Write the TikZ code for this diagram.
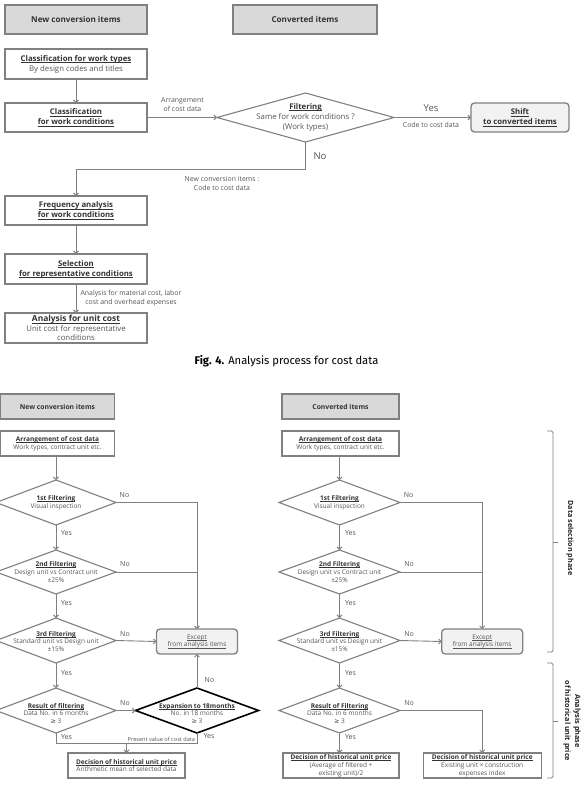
\documentclass[tikz,border=0pt]{standalone}
\usepackage{fontspec}
\setmainfont{Open Sans}[BoldFont={Open Sans Bold}]
\newfontfamily\capfont{Fira Sans}
\newfontfamily\symfont{DejaVu Sans}
\usetikzlibrary{shapes.geometric,arrows.meta}
\definecolor{ln}{HTML}{808080}
\definecolor{hdrfill}{HTML}{D9D9D9}
\definecolor{rfill}{HTML}{F2F2F2}
\definecolor{tx}{HTML}{333333}
\definecolor{tx2}{HTML}{555555}
\newcommand\ftop{\fontsize{7.8}{10}\selectfont}
\newcommand\fsm{\fontsize{6.9}{8.8}\selectfont}
\newcommand\fyn{\fontsize{9.5}{11}\selectfont}
\newcommand\fb{\fontsize{6.5}{7.9}\selectfont}
\newcommand\fbyn{\fontsize{7}{8}\selectfont}
\newcommand\fbs{\fontsize{5.6}{6.5}\selectfont}
\newcommand\myul[1]{\leavevmode\setbox0=\hbox{#1}\rlap{\rule[-0.17em]{\wd0}{0.06em}}\box0}
\newcommand\mytitle[1]{\textbf{\myul{#1}}}
\newcommand\mysub[1]{{\color{tx2}#1}}
\newcommand\mygeq{{\symfont ≥}}
\begin{document}
\begin{tikzpicture}[x=1pt,y=-1pt,
  every node/.style={text=tx, inner sep=0pt, outer sep=0pt},
  hdr/.style={draw=ln, fill=hdrfill, line width=1.4pt},
  box/.style={draw=ln, fill=white, line width=1.3pt, align=center},
  rbox/.style={draw=ln, fill=rfill, line width=1.3pt, rounded corners=3.5pt, align=center},
  dia/.style={diamond, draw=ln, line width=1.1pt, fill=white},
  conn/.style={draw=ln, line width=0.9pt},
  arr/.style={conn, -{Straight Barb[length=2.5pt,width=5pt]}},
  lbl/.style={align=center, text=tx2},
  brk/.style={draw=ln, line width=0.8pt, rounded corners=1.5pt},
]
\useasboundingbox (0,0) rectangle (582,787);

% ---------------- Fig. 4 ----------------
\node[hdr, minimum width=142pt, minimum height=29pt, font=\fontsize{8.1}{9}\selectfont\bfseries] (h1) at (76,19.5) {New conversion items};
\node[hdr, minimum width=144pt, minimum height=29pt, font=\fontsize{8.1}{9}\selectfont\bfseries] (h2) at (305,19.5) {Converted items};

\node[box, minimum width=142pt, minimum height=30pt, font=\ftop] (cwt) at (76,64) {\mytitle{Classification for work types}\\\mysub{By design codes and titles}};
\node[box, minimum width=142pt, minimum height=29pt, font=\ftop] (cwc) at (76,117.5) {\mytitle{Classification}\\\mytitle{for work conditions}};
\node[dia, minimum width=177pt, minimum height=49pt,
  label={[name=filtT, align=center, font=\ftop]center:{\mytitle{Filtering}\\\mysub{Same for work conditions ?}\\\mysub{(Work types)}}}] (filt) at (305.5,117.5) {};
\node[rbox, minimum width=98pt, minimum height=29pt, font=\ftop] (shift) at (520,117.5) {\mytitle{Shift}\\\mytitle{to converted items}};
\node[box, minimum width=142pt, minimum height=29pt, font=\ftop] (freq) at (76,210.5) {\mytitle{Frequency analysis}\\\mytitle{for work conditions}};
\node[box, minimum width=142pt, minimum height=30pt, font=\ftop] (sel) at (76,269) {\mytitle{Selection}\\\mytitle{for representative conditions}};
\node[box, minimum width=142pt, minimum height=30pt, font=\fontsize{7.8}{9.4}\selectfont] (auc) at (76,328) {{\fontsize{8.4}{9.4}\selectfont\mytitle{Analysis for unit cost}}\\\mysub{Unit cost for representative}\\\mysub{conditions}};

\draw[arr] (cwt.south) -- (cwc.north);
\draw[arr] (cwc.east) -- (filt.west);
\node[lbl, font=\fsm] (l1) at (182.5,104.5) {Arrangement\\of cost data};
\draw[arr] (filt.east) -- (shift.west);
\node[lbl, font=\fyn] (yes0) at (431,108) {Yes};
\node[lbl, font=\fsm] (l2) at (431,125) {Code to cost data};
\coordinate (n1) at (305.5,169);
\coordinate (n2) at (76,169);
\draw[arr] (filt.south) -- (n1) -- (n2) -- (freq.north);
\node[lbl, font=\fyn] (no0) at (320,156) {No};
\node[lbl, font=\fsm] (l3) at (222,183.3) {New conversion items :\\Code to cost data};
\draw[arr] (freq.south) -- (sel.north);
\draw[arr] (sel.south) -- (auc.north);
\node[lbl, font=\fsm] (l4) at (131,298.3) {Analysis for material cost, labor\\cost and overhead expenses};

\node[font=\capfont\fontsize{11.2}{13}\selectfont, text=black] (cap) at (286.5,360.7) {\textbf{Fig. 4.} Analysis process for cost data};

% ---------------- bottom figure ----------------
\node[hdr, minimum width=114pt, minimum height=25pt, font=\fontsize{6.8}{8}\selectfont\bfseries] (h3) at (57.5,406.5) {New conversion items};
\node[hdr, minimum width=117pt, minimum height=25pt, font=\fontsize{6.8}{8}\selectfont\bfseries] (h4) at (340.5,406.5) {Converted items};

\node[box, minimum width=114pt, minimum height=25pt, font=\fb] (arrL) at (57.5,443.5) {\mytitle{Arrangement of cost data}\\\mysub{Work types, contract unit etc.}};
\node[box, minimum width=117pt, minimum height=25pt, font=\fb] (arrR) at (340.5,443.5) {\mytitle{Arrangement of cost data}\\\mysub{Work types, contract unit etc.}};

% left column
\node[dia, minimum width=120pt, minimum height=45pt,
  label={[name=d1Lt, align=center, font=\fb]center:{\mytitle{1st Filtering}\\\mysub{Visual inspection}}}] (d1L) at (56,502.5) {};
\node[dia, minimum width=120pt, minimum height=44pt,
  label={[name=d2Lt, align=center, font=\fb]center:{\mytitle{2nd Filtering}\\\mysub{Design unit vs Contract unit}\\\mysub{±25\%}}}] (d2L) at (56,572) {};
\node[dia, minimum width=120pt, minimum height=45pt,
  label={[name=d3Lt, align=center, font=\fb, yshift=-1pt]center:{\mytitle{3rd Filtering}\\\mysub{Standard unit vs Design unit}\\\mysub{±15\%}}}] (d3L) at (56,640.5) {};
\node[dia, minimum width=120pt, minimum height=45pt,
  label={[name=d4Lt, align=center, font=\fb, yshift=-3pt]center:{\mytitle{Result of filtering}\\\mysub{Data No. in 6 months}\\\mysub{\mygeq\ 3}}}] (d4L) at (56,710.5) {};
\node[diamond, draw=black, line width=1.6pt, fill=white, minimum width=123pt, minimum height=45pt,
  label={[name=expt, align=center, font=\fb, yshift=-3pt]center:{\mytitle{Expansion to 18months}\\\mysub{No. in 18 months}\\\mysub{\mygeq\ 3}}}] (exp) at (197,710.5) {};
\node[rbox, minimum width=81pt, minimum height=25pt, font=\fb, text=tx2] (excL) at (197,641.5) {\myul{Except}\\\myul{from analysis items}};
\node[box, minimum width=117pt, minimum height=25pt, font=\fb] (decL) at (126.5,765.5) {\mytitle{Decision of historical unit price}\\\mysub{Arithmetic mean of selected data}};

\draw[arr] (arrL.south -| d1L.north) -- (d1L.north);
\draw[arr] (d1L.east) -| (excL.north);
\draw[conn] (d2L.east) -- (d2L.east -| excL.north);
\draw[arr] (d3L.east) -- (excL.west);
\draw[arr] (d1L.south) -- (d2L.north);
\draw[arr] (d2L.south) -- (d3L.north);
\draw[arr] (d3L.south) -- (d4L.north);
\draw[arr] (d4L.east) -- (exp.west);
\draw[arr] (exp.north) -- (excL.south);
\coordinate (j1) at (56,743);
\coordinate (j2) at (126.5,743);
\draw[conn] (d4L.south) -- (j1) -| (exp.south);
\draw[arr] (j2) -- (decL.north);

\node[lbl, font=\fbyn] (nL1) at (124.5,495) {No};
\node[lbl, font=\fbyn] (nL2) at (125,563.7) {No};
\node[lbl, font=\fbyn] (nL3) at (125,634) {No};
\node[lbl, font=\fbyn] (nL4) at (125,702.7) {No};
\node[lbl, font=\fbyn] (nL5) at (209.5,680) {No};
\node[lbl, font=\fbyn, anchor=west] (yL1) at (61,533) {Yes};
\node[lbl, font=\fbyn, anchor=west] (yL2) at (61,603) {Yes};
\node[lbl, font=\fbyn, anchor=west] (yL3) at (61,673) {Yes};
\node[lbl, font=\fbyn, anchor=west] (yL4) at (61,736.7) {Yes};
\node[lbl, font=\fbyn] (yL5) at (209,736) {Yes};
\node[lbl, font=\fbs, anchor=east] (pv) at (195,739) {Present value of cost data};

% right column
\node[dia, minimum width=121pt, minimum height=45pt,
  label={[name=d1Rt, align=center, font=\fb]center:{\mytitle{1st Filtering}\\\mysub{Visual inspection}}}] (d1R) at (339.5,502.5) {};
\node[dia, minimum width=121pt, minimum height=44pt,
  label={[name=d2Rt, align=center, font=\fb]center:{\mytitle{2nd Filtering}\\\mysub{Design unit vs Contract unit}\\\mysub{±25\%}}}] (d2R) at (339.5,572) {};
\node[dia, minimum width=121pt, minimum height=45pt,
  label={[name=d3Rt, align=center, font=\fb, yshift=-1pt]center:{\mytitle{3rd Filtering}\\\mysub{Standard unit vs Design unit}\\\mysub{±15\%}}}] (d3R) at (339.5,640.5) {};
\node[dia, minimum width=121pt, minimum height=45pt,
  label={[name=d4Rt, align=center, font=\fb, yshift=-3pt]center:{\mytitle{Result of Filtering}\\\mysub{Data No. in 6 months}\\\mysub{\mygeq\ 3}}}] (d4R) at (339.5,710.5) {};
\node[rbox, minimum width=81pt, minimum height=25pt, font=\fb, text=tx2] (excR) at (482.2,641.5) {\myul{Except}\\\myul{from analysis items}};
\node[box, minimum width=116pt, minimum height=25pt, font=\fb] (decR1) at (341,765.5) {\mytitle{Decision of historical unit price}\\\mysub{(Average of filtered +}\\\mysub{existing unit)/2}};
\node[box, minimum width=118pt, minimum height=25pt, font=\fb] (decR2) at (482.2,765.5) {\mytitle{Decision of historical unit price}\\\mysub{Existing unit × construction}\\\mysub{expenses index}};

\draw[arr] (arrR.south -| d1R.north) -- (d1R.north);
\draw[arr] (d1R.east) -| (excR.north);
\draw[conn] (d2R.east) -- (d2R.east -| excR.north);
\draw[arr] (d3R.east) -- (excR.west);
\draw[arr] (d1R.south) -- (d2R.north);
\draw[arr] (d2R.south) -- (d3R.north);
\draw[arr] (d3R.south) -- (d4R.north);
\draw[arr] (d4R.east) -| (decR2.north);
\draw[arr] (d4R.south) -- (d4R.south |- decR1.north);

\node[lbl, font=\fbyn] (nR1) at (408.5,495) {No};
\node[lbl, font=\fbyn] (nR2) at (409,563.7) {No};
\node[lbl, font=\fbyn] (nR3) at (409,634) {No};
\node[lbl, font=\fbyn] (nR4) at (409,702.7) {No};
\node[lbl, font=\fbyn, anchor=west] (yR1) at (345,533) {Yes};
\node[lbl, font=\fbyn, anchor=west] (yR2) at (345,603) {Yes};
\node[lbl, font=\fbyn, anchor=west] (yR3) at (345,673) {Yes};
\node[lbl, font=\fbyn, anchor=west] (yR4) at (345,736.7) {Yes};

% brackets
\coordinate (b1a) at (547,431);
\coordinate (b1b) at (553,431);
\coordinate (b1c) at (553,652);
\coordinate (b1d) at (547,652);
\coordinate (b1m) at (553,542);
\coordinate (b1t) at (558,542);
\draw[brk] (b1a) -- (b1b) -- (b1c) -- (b1d);
\draw[brk] (b1m) -- (b1t);
\node[rotate=-90, font=\fontsize{7.2}{8}\selectfont\bfseries, text=black!85] (ph1) at (570,538) {Data selection phase};

\coordinate (b2a) at (547,663);
\coordinate (b2b) at (553,663);
\coordinate (b2c) at (553,778);
\coordinate (b2d) at (547,778);
\coordinate (b2m) at (553,721);
\coordinate (b2t) at (558,721);
\draw[brk] (b2a) -- (b2b) -- (b2c) -- (b2d);
\draw[brk] (b2m) -- (b2t);
\node[rotate=-90, align=center, font=\fontsize{7.3}{10}\selectfont\bfseries, text=black!85] (ph2) at (572,721) {Analysis phase\\of historical unit price};
\end{tikzpicture}
\end{document}
